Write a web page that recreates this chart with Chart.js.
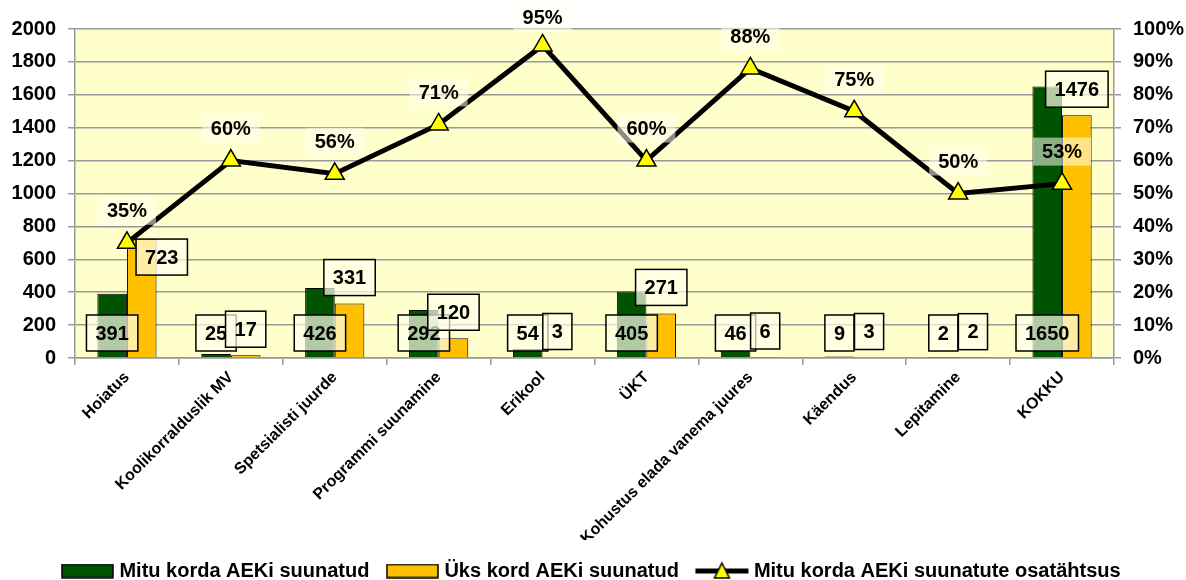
<!DOCTYPE html>
<html>
<head>
<meta charset="utf-8">
<script src="https://cdn.jsdelivr.net/npm/chart.js@4"></script>
<style>
  html, body { margin: 0; padding: 0; background: #fff; }
  #wrap { width: 1186px; height: 580px; }
</style>
</head>
<body>
<div id="wrap"><canvas id="chart"></canvas></div>
<script>
const categories = ['Hoiatus', 'Koolikorralduslik MV', 'Spetsialisti juurde', 'Programmi suunamine', 'Erikool',
  'ÜKT', 'Kohustus elada vanema juures', 'Käendus', 'Lepitamine', 'KOKKU'];
const mitu = [391, 25, 426, 292, 54, 405, 46, 9, 2, 1650];
const yks = [723, 17, 331, 120, 3, 271, 6, 3, 2, 1476];
const osakaal = [35, 60, 56, 71, 95, 60, 88, 75, 50, 53];

const FONT = "'Liberation Sans', Arial, sans-serif";
const GREEN = '#005300';
const ORANGE = '#FFC000';

// small canvases used as legend symbols
function boxIcon(color) {
  const c = document.createElement('canvas');
  c.width = 53; c.height = 15;
  const g = c.getContext('2d');
  g.fillStyle = color;
  g.fillRect(1, 1, 51, 13);
  g.strokeStyle = '#000';
  g.lineWidth = 1.5;
  g.strokeRect(1, 1, 51, 13);
  return c;
}
function lineIcon() {
  const c = document.createElement('canvas');
  c.width = 55; c.height = 22;
  const g = c.getContext('2d');
  g.strokeStyle = '#000';
  g.lineWidth = 5;
  g.beginPath(); g.moveTo(1, 11); g.lineTo(54, 11); g.stroke();
  g.fillStyle = '#FFFF00';
  g.lineWidth = 1.5;
  g.beginPath(); g.moveTo(27.5, 3); g.lineTo(35, 18); g.lineTo(20, 18); g.closePath();
  g.fill(); g.stroke();
  return c;
}

const plotBg = {
  id: 'plotBg',
  beforeDraw(chart) {
    const a = chart.chartArea, ctx = chart.ctx;
    ctx.save();
    ctx.fillStyle = '#FFFFCC';
    ctx.fillRect(a.left, a.top, a.right - a.left, a.bottom - a.top);
    ctx.restore();
  }
};

function boxRect(ctx, text, cx, cy, h) {
  const w = ctx.measureText(text).width + 18;
  return { l: cx - w / 2, t: cy - h / 2, w, h };
}
function drawBox(ctx, text, r, fill, border) {
  ctx.fillStyle = fill;
  ctx.fillRect(r.l, r.t, r.w, r.h);
  if (border) {
    ctx.strokeStyle = '#000';
    ctx.lineWidth = 1.5;
    ctx.strokeRect(r.l, r.t, r.w, r.h);
  }
  ctx.fillStyle = '#000';
  ctx.fillText(text, r.l + r.w / 2, r.t + r.h / 2 + 1);
}
function overlaps(a, b) {
  return a.l < b.l + b.w && b.l < a.l + a.w && a.t < b.t + b.h && b.t < a.t + a.h;
}

const valueLabels = {
  id: 'valueLabels',
  afterDatasetsDraw(chart) {
    const ctx = chart.ctx;
    const y = chart.scales.y;
    const base = y.getPixelForValue(0);
    ctx.save();
    ctx.textAlign = 'center';
    ctx.textBaseline = 'middle';
    ctx.font = 'bold 20px ' + FONT;
    const gMeta = chart.getDatasetMeta(0);
    const oMeta = chart.getDatasetMeta(1);
    const lMeta = chart.getDatasetMeta(2);
    const pctBoxes = lMeta.data.map((pt, i) => boxRect(ctx, osakaal[i] + '%', pt.x, Math.max(pt.y - 32, 17), 28));
    gMeta.data.forEach((bar, i) => {
      drawBox(ctx, String(mitu[i]), boxRect(ctx, String(mitu[i]), bar.x, base - 25, 36), 'rgba(255,255,235,0.7)', true);
    });
    oMeta.data.forEach((bar, i) => {
      let r = boxRect(ctx, String(yks[i]), bar.x, bar.y - 26, 36);
      if (overlaps(r, pctBoxes[i])) {
        // move beside the bar top when it would hit the line label
        r = boxRect(ctx, String(yks[i]), bar.x + 20, bar.y + 18, 36);
      }
      drawBox(ctx, String(yks[i]), r, 'rgba(255,255,235,0.7)', true);
    });
    pctBoxes.forEach((r, i) => drawBox(ctx, osakaal[i] + '%', r, 'rgba(255,255,240,0.55)', false));
    ctx.restore();
  }
};

new Chart(document.getElementById('chart'), {
  type: 'bar',
  data: {
    labels: categories,
    datasets: [
      {
        label: 'Mitu korda AEKi suunatud',
        data: mitu,
        backgroundColor: GREEN,
        borderColor: '#000',
        borderWidth: 1,
        pointStyle: boxIcon(GREEN),
        order: 2,
        yAxisID: 'y'
      },
      {
        label: 'Üks kord AEKi suunatud',
        data: yks,
        backgroundColor: ORANGE,
        borderColor: '#000',
        borderWidth: 1,
        pointStyle: boxIcon(ORANGE),
        order: 3,
        yAxisID: 'y'
      },
      {
        type: 'line',
        label: 'Mitu korda AEKi suunatute osatähtsus',
        data: osakaal,
        borderColor: '#000',
        borderWidth: 5,
        pointStyle: 'triangle',
        pointRadius: 11,
        pointBackgroundColor: '#FFFF00',
        pointBorderColor: '#000',
        pointBorderWidth: 1.5,
        order: 1,
        yAxisID: 'y1'
      }
    ]
  },
  options: {
    responsive: true,
    maintainAspectRatio: false,
    animation: false,
    datasets: {
      bar: { categoryPercentage: 0.57, barPercentage: 1.0 }
    },
    layout: { padding: { top: 29, left: 0, right: 0, bottom: -11 } },
    plugins: {
      tooltip: { enabled: false },
      legend: {
        position: 'bottom',
        labels: {
          usePointStyle: true,
          pointStyleWidth: 44,
          padding: 21,
          color: '#000',
          font: { family: FONT, size: 20, weight: 'bold' },
          generateLabels(chart) {
            return chart.data.datasets.map((ds, i) => ({
              text: ds.label,
              pointStyle: i === 2 ? lineIcon() : ds.pointStyle,
              datasetIndex: i,
              fillStyle: ds.backgroundColor,
              strokeStyle: '#000',
              lineWidth: 0,
              hidden: false,
              fontColor: '#000'
            }));
          }
        }
      }
    },
    scales: {
      x: {
        afterFit(scale) { scale.height = 182; },
        grid: { display: true, drawOnChartArea: false, drawTicks: true, tickLength: 7, color: '#999', lineWidth: 1.5 },
        border: { display: true, color: '#999', width: 1.5 },
        ticks: {
          color: '#000',
          minRotation: 45,
          maxRotation: 45,
          autoSkip: false,
          padding: 3,
          font: { family: FONT, size: 16, weight: 'bold' }
        }
      },
      y: {
        position: 'left',
        min: 0,
        max: 2000,
        afterFit(scale) { scale.width = 75; },
        grid: { color: '#999', lineWidth: 1.5, tickLength: 7 },
        border: { display: true, color: '#999', width: 1.5 },
        ticks: {
          stepSize: 200,
          color: '#000',
          padding: 12,
          callback: v => String(v),
          font: { family: FONT, size: 20, weight: 'bold' }
        }
      },
      y1: {
        position: 'right',
        min: 0,
        max: 100,
        afterFit(scale) { scale.width = 72; },
        grid: { drawOnChartArea: false, color: '#999', lineWidth: 1.5, tickLength: 7 },
        border: { display: true, color: '#999', width: 1.5 },
        ticks: {
          stepSize: 10,
          color: '#000',
          padding: 12,
          callback: v => v + '%',
          font: { family: FONT, size: 20, weight: 'bold' }
        }
      }
    }
  },
  plugins: [plotBg, valueLabels]
});
</script>
</body>
</html>
